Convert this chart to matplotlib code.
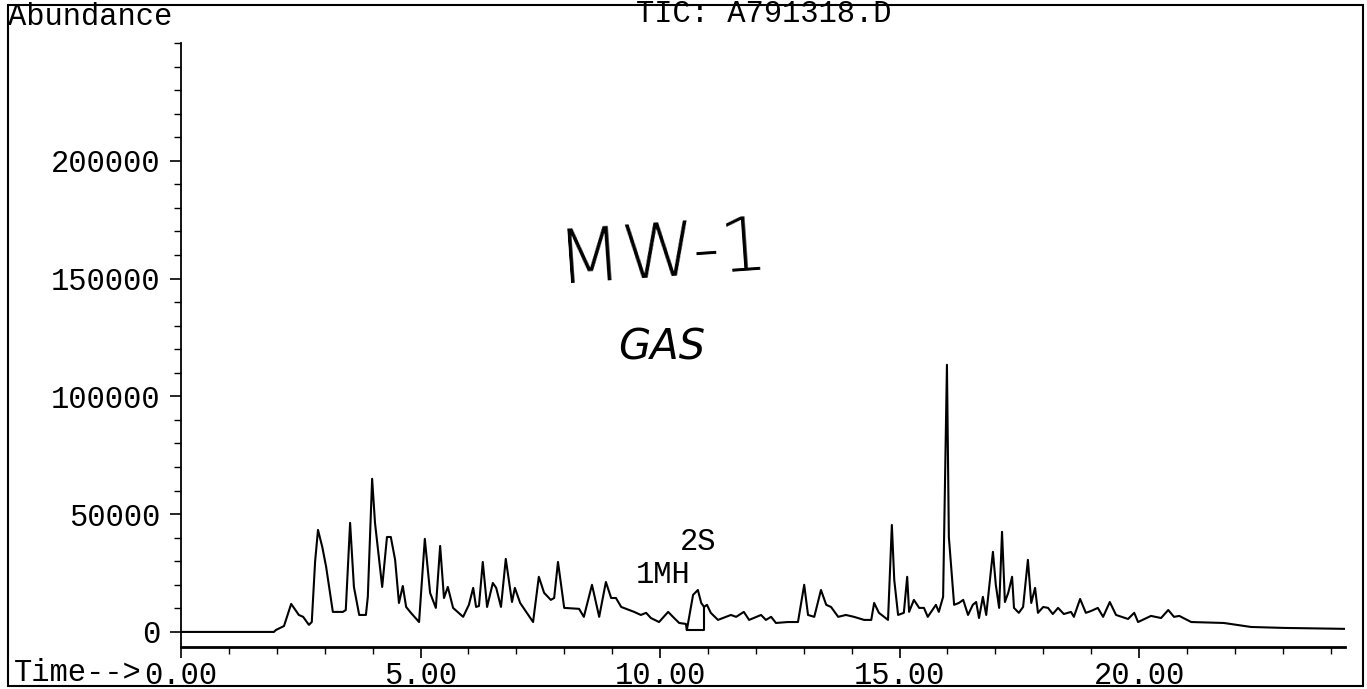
import numpy as np
import matplotlib
matplotlib.use("Agg")
import matplotlib.pyplot as plt
from matplotlib.patches import Rectangle
from matplotlib.ticker import MultipleLocator, FixedLocator

plt.rcParams["font.family"] = ["Liberation Mono", "DejaVu Sans Mono"]

# TIC trace: retention time (min) and abundance
TIME = [0.00, 1.94, 1.98, 2.15, 2.30, 2.46, 2.55, 2.67, 2.73, 2.80, 2.86,
        2.95, 3.03, 3.17, 3.38, 3.44, 3.53, 3.61, 3.72, 3.86, 3.90, 3.99,
        4.05, 4.20, 4.30, 4.38, 4.47, 4.55, 4.63, 4.70, 4.80, 4.97,
        5.09, 5.20, 5.32, 5.41, 5.49, 5.57, 5.68, 5.89, 6.01, 6.10,
        6.16, 6.22, 6.30, 6.39, 6.51, 6.58, 6.68, 6.78, 6.91, 6.97,
        7.08, 7.35, 7.47, 7.58, 7.72, 7.79, 7.87, 8.00, 8.31, 8.41,
        8.58, 8.73, 8.87, 8.98, 9.08, 9.19, 9.46, 9.60, 9.71, 9.81,
        9.98, 10.17, 10.27, 10.40, 10.54, 10.56, 10.69, 10.79, 10.86, 10.92,
        10.98, 11.06, 11.21, 11.38, 11.48, 11.59, 11.75, 11.86, 12.11, 12.21,
        12.32, 12.42, 12.67, 12.88, 13.01, 13.09, 13.22, 13.36, 13.47, 13.57,
        13.72, 13.88, 14.05, 14.26, 14.41, 14.47, 14.57, 14.76, 14.84, 14.89,
        14.97, 15.09, 15.16, 15.20, 15.30, 15.41, 15.51, 15.59, 15.76, 15.82,
        15.91, 15.99, 16.03, 16.14, 16.24, 16.33, 16.43, 16.53, 16.60, 16.66,
        16.74, 16.81, 16.95, 17.01, 17.08, 17.14, 17.20, 17.27, 17.35, 17.39,
        17.49, 17.58, 17.68, 17.75, 17.83, 17.89, 18.00, 18.10, 18.20, 18.31,
        18.43, 18.58, 18.64, 18.77, 18.89, 19.00, 19.14, 19.25, 19.39, 19.52,
        19.77, 19.90, 19.98, 20.25, 20.46, 20.61, 20.73, 20.84, 21.09, 21.77,
        22.34, 23.03, 24.30]
ABUNDANCE = [0, 0, 800, 2500, 11900, 7200, 6400, 3000, 4200, 30000, 43300,
             36000, 27600, 8500, 8500, 9300, 46300, 19100, 7200, 7200, 14900, 65000,
             46300, 19100, 40300, 40300, 30600, 12300, 19500, 10600, 8100, 4200,
             39500, 16600, 10200, 36500, 14400, 19100, 10200, 6400, 11500, 18700,
             10600, 11000, 29700, 10600, 20800, 18700, 10600, 31000, 12700, 18700,
             12300, 4200, 23400, 16600, 13600, 14400, 29700, 10200, 9800, 6400,
             20000, 6400, 21200, 14400, 14400, 10600, 8500, 7200, 8100, 5900,
             4200, 8500, 6400, 3800, 3400, 800, 15700, 17800, 12300, 10600,
             11500, 8100, 5100, 6400, 7200, 6400, 8500, 5100, 7200, 5100,
             6400, 3800, 4200, 4200, 20000, 7200, 6400, 17800, 11500, 10600,
             6400, 7200, 6400, 5100, 5100, 12300, 8100, 5100, 45400, 22100,
             7200, 8100, 23400, 8500, 13600, 10200, 10200, 6400, 11500, 8500,
             14900, 113400, 40300, 11500, 12300, 13600, 7200, 11500, 12700, 5900,
             14900, 7200, 34000, 20000, 10200, 42500, 12700, 16600, 23400, 10200,
             8100, 10600, 30600, 12300, 18700, 8100, 10600, 10200, 7600, 10200,
             7600, 8500, 6400, 14000, 8100, 8900, 10200, 6400, 12700, 7200,
             5500, 8100, 4200, 6800, 5900, 9300, 6400, 6800, 4200, 3800,
             2100, 1700, 1300]

# integration baseline drawn under the 2S peak
INTEG_T = [10.56, 10.92, 10.92]
INTEG_A = [800, 800, 10600]

PEAK_LABELS = ["1MH", "2S"]
PEAK_T = [10.06, 10.79]
PEAK_A = [24200, 38200]

Y_MAJOR = [0, 50000, 100000, 150000, 200000]
X_MAJOR = [0, 5, 10, 15, 20]
X_LABELS = ["0.00", "5.00", "10.00", "15.00", "20.00"]

W, H = 1367, 689
FS = 22
fig = plt.figure(figsize=(W / 100, H / 100), dpi=100)
ax = fig.add_axes([181 / W, 42 / H, (1345 - 181) / W, (647 - 43) / H])

ax.plot(TIME, ABUNDANCE, color="black", lw=1.5)
ax.plot(INTEG_T, INTEG_A, color="black", lw=1.5)

for lab, t, a in zip(PEAK_LABELS, PEAK_T, PEAK_A):
    ax.text(t, a, lab, ha="center", va="center", fontsize=FS)

ax.set_xlim(0, 24.3)
ax.set_ylim(-6400, 250000)

ax.yaxis.set_major_locator(FixedLocator(Y_MAJOR))
ax.yaxis.set_minor_locator(MultipleLocator(10000))
ax.set_yticklabels([str(v) for v in Y_MAJOR])
ax.xaxis.set_major_locator(FixedLocator(X_MAJOR))
ax.xaxis.set_minor_locator(MultipleLocator(1))
ax.set_xticklabels(X_LABELS)

ax.tick_params(axis="both", which="major", direction="out", length=8,
               width=1.2, labelsize=FS, color="black")
ax.tick_params(axis="both", which="minor", direction="out", length=5,
               width=1.0, color="black")
ax.tick_params(axis="y", which="major", pad=7)
ax.tick_params(axis="x", which="major", pad=2)

for side in ("top", "right"):
    ax.spines[side].set_visible(False)
ax.spines["bottom"].set_linewidth(2)
ax.spines["left"].set_linewidth(1.3)

# header texts as printed by the instrument
fig.text(8 / W, 1 - 17 / H, "Abundance", ha="left", va="center", fontsize=FS)
fig.text(764 / W, 1 - 14 / H, "TIC: A791318.D", ha="center", va="center",
         fontsize=FS)
fig.text(142 / W, 1 - 673 / H, "Time-->", ha="right", va="center",
         fontsize=FS)

# handwritten notes on the sheet
fig.text(663 / W, 1 - 255 / H, "MW-1", ha="center", va="center",
         fontsize=54, family="DejaVu Sans", fontweight="light", rotation=4)
fig.text(662 / W, 1 - 347 / H, "GAS", ha="center", va="center",
         fontsize=30, family="DejaVu Sans", style="italic")

fig.add_artist(Rectangle((8 / W, 3 / H), (1363 - 8) / W, (684 - 3) / H,
                         transform=fig.transFigure, fill=False,
                         lw=1.5, color="black"))

fig.savefig("out.png", dpi=100)
